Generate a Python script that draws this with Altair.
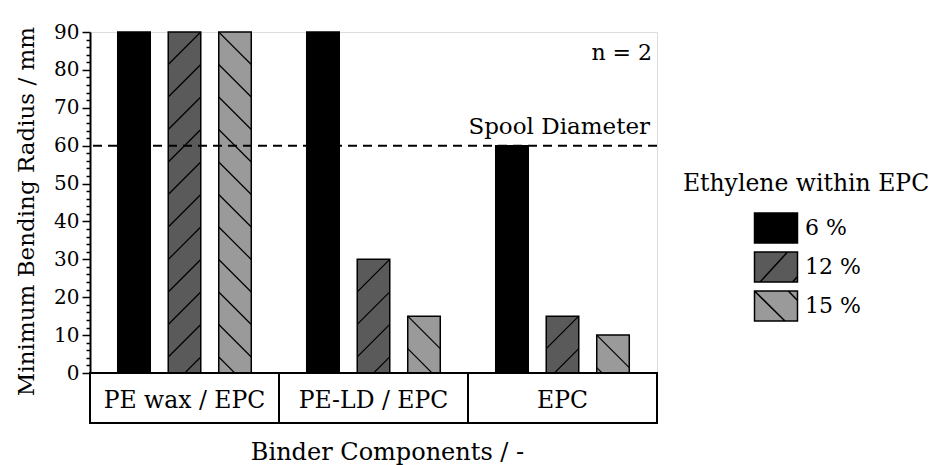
import altair as alt
import pandas as pd

# ---- data ----
categories = ["PE wax / EPC", "PE-LD / EPC", "EPC"]
series = ["6 %", "12 %", "15 %"]
values_6 = [90, 90, 60]
values_12 = [90, 30, 15]
values_15 = [90, 15, 10]
y_ticks = list(range(0, 91, 2))
spool_value = [60]
spool_label = ["Spool Diameter"]
n_label = ["n = 2"]
legend_title = "Ethylene within EPC"

fill_colors = ["#000000", "#5a5a5a", "#9a9a9a"]
legend_paths = [
    "M-1.433,-1H1.433V1H-1.433Z",
    "M-1.433,-1H1.433V1H-1.433Z M-1.06,1L0.77,-1 M1.1,1L1.433,0.64",
    "M-1.433,-1H1.433V1H-1.433Z M-1.433,-1L0.6,1 M0.82,-1L1.433,-0.36",
]

rows = []
for s, vals in zip(series, [values_6, values_12, values_15]):
    for c, v in zip(categories, vals):
        rows.append({"cat": c, "series": s, "value": v})
df = pd.DataFrame(rows)
cat_df = pd.DataFrame({"cat": categories})
spool_df = pd.DataFrame({"y": spool_value, "t": spool_label})
n_df = pd.DataFrame({"t": n_label})

FONT = "DejaVu Serif"
W, H = 567, 341
HATCH = 8.578  # one hatch segment's vertical span in data units (bar width in px)

x_axis = alt.Axis(labels=False, ticks=False, domain=False, grid=False,
                  title="Binder Components / -", titleFont=FONT, titleFontSize=24,
                  titleFontWeight="normal", titleColor="black",
                  titleX=297, titleY=86, titleBaseline="alphabetic")
x_scale = alt.Scale(domain=categories, paddingInner=0, paddingOuter=0)
off_scale = alt.Scale(domain=series, paddingInner=0.356, paddingOuter=0.549)
y_scale = alt.Scale(domain=[0, 90], nice=False, zero=True)
y_axis = alt.Axis(values=y_ticks, grid=False,
                  labelExpr="datum.value % 10 === 0 ? datum.label : ''",
                  tickSize={"condition": {"test": "datum.value % 10 === 0", "value": 8}, "value": 4},
                  tickColor="black", tickWidth=1.5, domainColor="black", domainWidth=2,
                  labelFont=FONT, labelFontSize=20, labelColor="black", labelPadding=3,
                  title="Minimum Bending Radius / mm", titleFont=FONT, titleFontSize=23,
                  titleFontWeight="normal", titleColor="black",
                  titleX=-57, titleY=179, titleBaseline="alphabetic")

legend = alt.Legend(title=legend_title, orient="none", legendX=593, legendY=140,
                    titleFont=FONT, titleFontSize=23.5, titleFontWeight="normal",
                    titleColor="black", titlePadding=16.5, titleAnchor="middle", titleLimit=500,
                    labelFont=FONT, labelFontSize=22, labelColor="black", labelOffset=13,
                    symbolSize=900, symbolStrokeWidth=1.5, symbolStrokeColor="black",
                    symbolOffset=9, rowPadding=3, padding=0)
fill_enc = alt.Fill("series:N", scale=alt.Scale(domain=series, range=fill_colors), legend=legend)


def X():
    return alt.X("cat:N", scale=x_scale, axis=x_axis)


def Y(field):
    return alt.Y(field, scale=y_scale, axis=y_axis)


base = alt.Chart(df)

bars = base.mark_bar(stroke="black", strokeWidth=1.5).encode(
    x=X(), xOffset=alt.XOffset("series:N", scale=off_scale), y=Y("value:Q"), fill=fill_enc
)

legend_shapes = base.transform_filter("false").mark_point(filled=True, opacity=1).encode(
    x=X(), xOffset=alt.XOffset("series:N", scale=off_scale), y=Y("value:Q"), fill=fill_enc,
    shape=alt.Shape("series:N", scale=alt.Scale(domain=series, range=legend_paths), legend=legend),
)


def hatch(sname, path):
    return (
        base.transform_filter(alt.datum.series == sname)
        .transform_calculate(k=f"sequence(0, ceil(datum.value / {HATCH}))")
        .transform_flatten(["k"])
        .transform_calculate(yc=f"datum.value - (datum.k + 0.5) * {HATCH}")
        .mark_point(shape=path, size=1056, color="black", filled=False, strokeWidth=1.2,
                    opacity=1, clip=True)
        .encode(x=X(), xOffset=alt.XOffset("series:N", scale=off_scale), y=Y("yc:Q"))
    )


hatch12 = hatch("12 %", "M-1,1L1,-1")
hatch15 = hatch("15 %", "M-1,-1L1,1")

spool_line = alt.Chart(spool_df).mark_rule(color="black", strokeWidth=2, strokeDash=[9, 6]).encode(
    y=Y("y:Q")
)
spool_text = alt.Chart(spool_df).mark_text(
    align="right", baseline="alphabetic", dy=-12, font=FONT, fontSize=23, color="black"
).encode(x=alt.value(560), y=Y("y:Q"), text="t:N")

n_text = alt.Chart(n_df).mark_text(
    align="right", baseline="alphabetic", font=FONT, fontSize=22, color="black"
).encode(x=alt.value(562), y=alt.value(28), text="t:N")

cat_box = alt.Chart(cat_df).mark_rect(fill="white", stroke="black", strokeWidth=2, clip=False).encode(
    x=X(), y=alt.value(H), y2=alt.value(H + 50)
)
cat_text = alt.Chart(cat_df).mark_text(
    baseline="alphabetic", font=FONT, fontSize=23.5, color="black"
).encode(x=X(), y=alt.value(H + 35), text="cat:N")

chart = (
    alt.layer(bars, legend_shapes, hatch12, hatch15, spool_line, spool_text, n_text, cat_box, cat_text)
    .properties(width=W, height=H, autosize="none",
                padding={"left": 90, "top": 32, "right": 936 - 90 - W, "bottom": 465 - 32 - H})
    .configure_view(stroke="black", strokeWidth=2)
    .configure(background="white")
)

chart.save("out.html", embed_options={"renderer": "svg", "actions": False})
